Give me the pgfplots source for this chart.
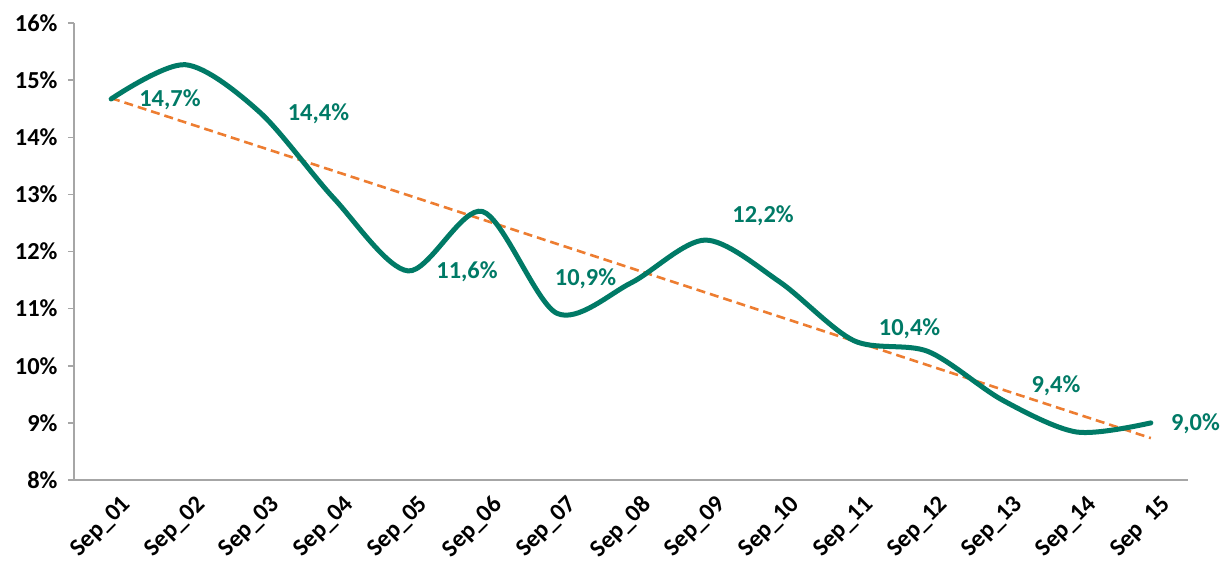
\documentclass[border=0pt]{standalone}
\usepackage{pgfplots}
\usepackage{pgfplotstable}
\pgfplotsset{compat=1.18}
\usepackage{fontspec}
\setmainfont{Carlito}
\definecolor{tealc}{RGB}{0,122,102}
\definecolor{orng}{RGB}{237,125,49}
\definecolor{axgray}{RGB}{166,166,166}

\pgfplotstableread{
x y lbl dx dy
1 14.67 {14,7\%} 28 -1
2 15.27 {} 0 0
3 14.44 {14,4\%} 28 -2
4 12.93 {} 0 0
5 11.66 {11,6\%} 28 -1
6 12.70 {} 0 0
7 10.92 {10,9\%} -2 34
8 11.45 {} 0 0
9 12.20 {12,2\%} 27 24
10 11.47 {} 0 0
11 10.44 {10,4\%} 25 12
12 10.25 {} 0 0
13 9.40 {9,4\%} 29 14
14 8.84 {} 0 0
15 9.00 {9,0\%} 20 -1
}\data

\begin{document}
\begin{tikzpicture}
\useasboundingbox (-74bp,-87bp) rectangle (1147bp,480bp);
\begin{axis}[
  scale only axis,
  width=1114bp, height=457bp,
  xmin=0.5, xmax=15.5, ymin=8, ymax=16,
  axis lines*=left,
  axis line style={axgray, line width=1.5bp, -},
  tick align=outside,
  ytick={8,...,16},
  yticklabel={\pgfmathprintnumber{\tick}\%},
  y tick label style={font=\fontsize{24.5}{26}\selectfont\bfseries, xshift=-7bp},
  ytick style={axgray, line width=1.5bp},
  major tick length=6bp,
  /pgf/number format/assume math mode=true,
  xtick={1,...,15},
  xticklabels={Sep\_01,Sep\_02,Sep\_03,Sep\_04,Sep\_05,Sep\_06,Sep\_07,Sep\_08,Sep\_09,Sep\_10,Sep\_11,Sep\_12,Sep\_13,Sep\_14,Sep\hspace{0.5em}15},
  x tick label style={font=\fontsize{24.5}{26}\selectfont\bfseries, rotate=45, anchor=north east, inner sep=2bp, yshift=-10bp, xshift=3bp},
  xtick style={draw=none},
  extra x ticks={0.5,1.5,...,15.5},
  extra x tick labels={},
  extra x tick style={tick style={axgray, line width=1.5bp, draw=axgray}},
  clip=false,
]
\addplot[orng, line width=2.6bp, dash pattern=on 9bp off 5bp] table[x=x, y={create col/linear regression={y=y}}] {\data};
\addplot[tealc, line width=5bp, smooth, line cap=round] table[x=x, y=y] {\data};
\addplot[draw=none, mark=none, forget plot,
  point meta=explicit symbolic,
  visualization depends on={\thisrow{dx} \as \dx},
  visualization depends on={\thisrow{dy} \as \dy},
  nodes near coords,
  every node near coord/.append style={anchor=west, inner sep=0pt, xshift={\dx*1bp}, yshift={\dy*1bp}, text=tealc, font=\fontsize{24.5}{26}\selectfont\bfseries},
] table[x=x, y=y, meta=lbl] {\data};
\end{axis}
\end{tikzpicture}
\end{document}
